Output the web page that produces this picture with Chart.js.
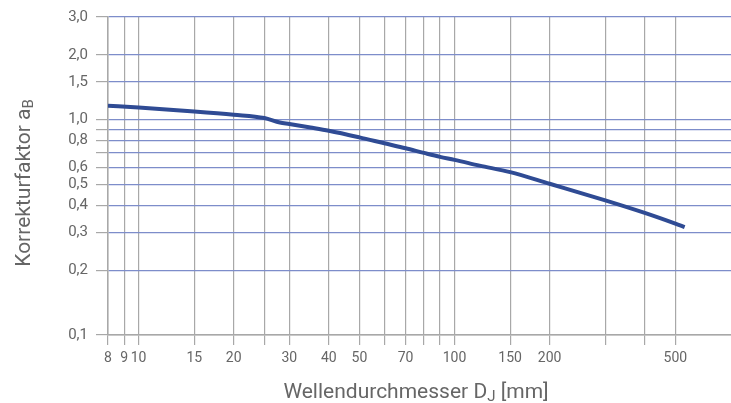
<!DOCTYPE html>
<html>
<head>
<meta charset="utf-8">
<script src="https://cdn.jsdelivr.net/npm/chart.js@4.4.1/dist/chart.umd.min.js"></script>
<style>
  html, body { margin: 0; padding: 0; background: #fff; }
  #wrap { width: 731px; height: 403px; position: relative; }
</style>
</head>
<body>
<div id="wrap"><canvas id="chart"></canvas></div>
<script>
// Wellendurchmesser [mm]
const diameters = [8, 10, 15, 20, 25, 28, 30, 35, 40, 50, 60, 70, 80, 90, 100, 120, 150, 200, 300, 400, 500, 535];
// Korrekturfaktor aB
const factors = [1.16, 1.14, 1.093, 1.055, 1.018, 0.97, 0.955, 0.92, 0.889, 0.828, 0.777, 0.737, 0.701, 0.672, 0.651, 0.612, 0.571, 0.504, 0.422, 0.369, 0.329, 0.317];

const xTicks = [8, 9, 10, 15, 20, 25, 30, 40, 50, 60, 70, 80, 90, 100, 150, 200, 300, 400, 500];
const xLabels = ['8', '9', '10', '15', '20', '', '30', '40', '50', '', '70', '', '', '100', '150', '200', '', '', '500'];
const yTicks = [0.1, 0.2, 0.3, 0.4, 0.5, 0.6, 0.7, 0.8, 0.9, 1.0, 1.5, 2.0, 3.0];
const yLabels = ['0,1', '0,2', '0,3', '0,4', '0,5', '0,6', '', '0,8', '', '1,0', '1,5', '2,0', '3,0'];

const gridGray = '#a8a8a8';
const gridBlue = '#7d8dca';
const textGray = '#666';

// axis titles with subscripts
const titles = {
  id: 'titles',
  afterDraw(chart) {
    const c = chart.ctx;
    c.save();
    c.fillStyle = textGray;
    c.textBaseline = 'alphabetic';
    // x title
    const main = 'Wellendurchmesser D';
    c.font = '21px Roboto';
    const w1 = c.measureText(main).width;
    c.font = '15px Roboto';
    const w2 = c.measureText('J').width;
    c.font = '21px Roboto';
    const w3 = c.measureText(' [mm]').width;
    let x = 416 - (w1 + w2 + w3) / 2;
    const y = 398;
    c.fillText(main, x, y);
    c.font = '15px Roboto';
    c.fillText('J', x + w1, y + 3);
    c.font = '21px Roboto';
    c.fillText(' [mm]', x + w1 + w2, y);
    // y title
    c.translate(30, 183);
    c.rotate(-Math.PI / 2);
    const m = 'Korrekturfaktor a';
    c.font = '21px Roboto';
    const v1 = c.measureText(m).width;
    c.font = '15px Roboto';
    const v2 = c.measureText('B').width;
    const sx = -(v1 + v2) / 2;
    c.font = '21px Roboto';
    c.fillText(m, sx, 0);
    c.font = '15px Roboto';
    c.fillText('B', sx + v1, 3);
    c.restore();
  }
};

new Chart(document.getElementById('chart'), {
  type: 'line',
  data: {
    datasets: [{
      data: diameters.map((d, i) => ({ x: d, y: factors[i] })),
      borderColor: '#2f4b94',
      borderWidth: 4,
      pointRadius: 0,
      fill: false,
      cubicInterpolationMode: 'monotone'
    }]
  },
  options: {
    responsive: true,
    maintainAspectRatio: false,
    animation: false,
    layout: { padding: { top: 17, right: 0, left: 0, bottom: 0 } },
    plugins: { legend: { display: false }, tooltip: { enabled: false } },
    scales: {
      x: {
        type: 'logarithmic',
        min: 8,
        max: 750,
        afterBuildTicks: s => { s.ticks = xTicks.map(v => ({ value: v })); },
        afterFit: s => { s.height = 68; },
        ticks: {
          autoSkip: false,
          maxRotation: 0,
          padding: 5,
          color: textGray,
          font: { family: 'Roboto', size: 14 },
          callback: (v, i) => xLabels[i]
        },
        grid: { color: gridGray, lineWidth: 1.2, tickLength: 10, tickColor: gridGray },
        border: { color: gridGray, width: 1.5 }
      },
      y: {
        type: 'logarithmic',
        min: 0.1,
        max: 3.0,
        afterBuildTicks: s => { s.ticks = yTicks.map(v => ({ value: v })); },
        afterFit: s => { s.width = 108; },
        ticks: {
          autoSkip: false,
          padding: 8,
          color: textGray,
          font: { family: 'Roboto', size: 15 },
          callback: (v, i) => yLabels[i]
        },
        grid: {
          color: ctx => (ctx.tick && ctx.tick.value === 0.1) ? gridGray : gridBlue,
          lineWidth: 1.2,
          tickLength: 12,
          tickColor: gridGray
        },
        border: { color: gridGray, width: 1.5 }
      }
    }
  },
  plugins: [titles]
});
</script>
</body>
</html>
